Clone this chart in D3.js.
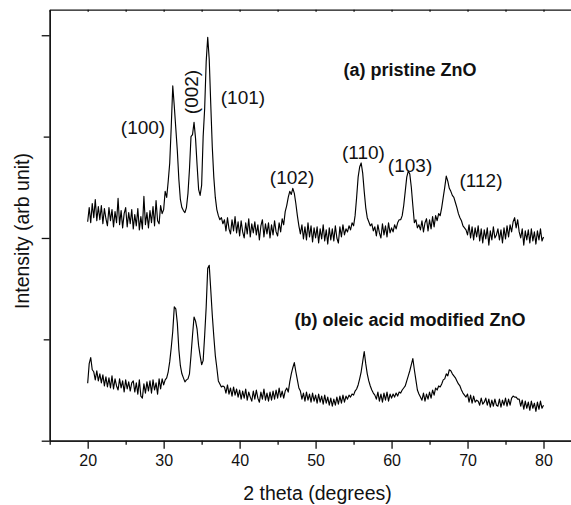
<!DOCTYPE html>
<html>
<head>
<meta charset="utf-8">
<script src="https://cdn.jsdelivr.net/npm/d3@7"></script>
<style>
  body { margin: 0; background: #fff; }
  text { font-family: Arial, "Liberation Sans", sans-serif; fill: #111; }
</style>
</head>
<body>
<div id="chart"></div>
<script>
// XRD patterns, 2 theta 20..80 sampled every 0.2 degree
const thetaStart = 20, thetaStep = 0.2;

const pristine = [
  1080,1150,1075,1170,1100,1190,1085,1155,1090,1160,
  1070,1145,1095,1060,1150,1085,1140,1055,1130,1075,
  1195,1065,1135,1050,1120,1150,1055,1125,1070,1140,
  1045,1115,1060,1145,1040,1105,1045,1205,1065,1125,
  1050,1135,1075,1155,1060,1185,1085,1070,1160,1120,
  1140,1230,1200,1280,1370,1550,1750,1650,1540,1430,
  1290,1190,1150,1135,1125,1150,1220,1340,1500,1510,
  1570,1490,1360,1240,1210,1260,1500,1640,1870,1990,
  1880,1660,1450,1300,1200,1140,1110,1090,1100,1070,
  1090,1035,1100,1045,1020,1090,1035,1105,1025,1080,
  1010,1085,1030,1000,1075,1020,1095,1005,1070,1025,
  1080,1015,1065,990,1060,1090,1005,1070,1020,1075,
  1000,1065,1015,1085,1030,1010,1075,1030,1095,1065,
  1130,1160,1200,1230,1215,1245,1220,1170,1110,1060,
  1020,1065,995,1055,990,1075,1005,1060,980,1050,
  1000,1055,975,1045,995,1065,985,1040,970,1050,
  990,1045,985,1060,1000,975,1055,1005,1065,1015,
  1045,1030,1060,1040,1075,1060,1110,1200,1300,1350,
  1370,1320,1230,1150,1100,1080,1060,1070,1035,1055,
  1010,1065,1025,1000,1070,1015,1060,1005,1075,1025,
  1050,1030,1065,1045,1075,1090,1090,1110,1160,1230,
  1300,1330,1315,1250,1160,1075,1090,1050,1065,1040,
  1085,1030,1075,1095,1035,1090,1045,1105,1055,1110,
  1085,1120,1110,1150,1200,1250,1305,1280,1245,1230,
  1210,1200,1175,1150,1120,1100,1085,1060,1050,1040,
  1015,1065,1000,1055,990,1050,1005,1060,985,1045,
  975,1040,995,1050,965,1035,990,1055,1000,1015,
  1045,990,1040,975,1050,995,1060,1005,1065,1030,
  1080,1100,1050,1090,1030,1000,1045,965,1035,990,
  1040,975,1045,985,1030,970,1035,990,1045,985,
  1005
];

const oleic = [
  283,380,410,350,340,300,345,295,330,285,
  325,270,315,265,310,260,320,255,305,270,
  250,305,260,295,240,300,255,290,245,285,
  295,240,285,230,300,220,210,280,235,290,
  245,295,235,300,250,285,230,305,255,305,
  275,300,310,340,390,460,540,660,650,580,
  450,370,330,310,290,300,305,330,420,520,
  610,590,550,470,420,375,395,520,660,850,
  865,745,620,515,420,360,295,280,265,270,
  265,235,275,230,260,220,265,225,255,215,
  250,205,245,210,255,200,240,215,195,245,
  205,250,210,190,240,205,255,200,235,195,
  240,200,245,205,250,210,260,215,245,210,
  245,260,240,290,330,360,385,340,300,260,
  245,205,235,195,240,200,230,190,235,195,
  225,185,230,190,220,180,225,185,215,175,
  210,170,205,175,215,180,220,185,225,190,
  220,205,225,215,230,225,245,255,275,305,
  340,390,440,380,330,295,270,250,235,225,
  205,240,195,230,190,235,200,240,195,230,
  210,230,215,235,220,240,235,250,260,270,
  295,320,345,375,405,350,300,250,230,215,
  200,235,195,230,205,240,210,250,225,260,
  250,270,265,280,300,305,330,320,350,345,
  330,320,310,295,280,270,250,235,225,215,
  230,190,225,185,220,190,200,195,175,210,
  180,190,210,175,205,165,200,170,205,175,
  170,205,165,200,175,210,170,205,175,210,
  220,215,215,205,205,170,200,155,195,160,
  190,150,195,160,185,145,190,155,195,160,
  175
];

const seriesNames = ["(a) pristine ZnO", "(b) oleic acid modified ZnO"];
const peakNames = ["(100)", "(002)", "(101)", "(102)", "(110)", "(103)", "(112)"];
const xTicks = [20, 30, 40, 50, 60, 70, 80];
const xMinorTicks = [15, 25, 35, 45, 55, 65, 75];
const yTicks = [0, 1000, 2000];
const yMinorTicks = [500, 1500];

const width = 571, height = 505;
const margin = { top: 9.7, left: 49.7, bottom: 64.3 };

const x = d3.scaleLinear()
    .domain([15, 85])
    .range([margin.left, margin.left + 70 * 7.597]);

const y = d3.scaleLinear()
    .domain([0, 2126])
    .range([height - margin.bottom, margin.top]);

const svg = d3.select("#chart").append("svg")
    .attr("width", width)
    .attr("height", height)
    .attr("viewBox", [0, 0, width, height]);

const line = d3.line()
    .x((d, i) => x(thetaStart + i * thetaStep))
    .y(d => y(d));

[pristine, oleic].forEach(s => {
    svg.append("path")
        .datum(s)
        .attr("fill", "none")
        .attr("stroke", "#000")
        .attr("stroke-width", 1.15)
        .attr("stroke-linejoin", "round")
        .attr("d", line);
});

// axes
const styleAxis = g => g
    .call(g => g.selectAll("line").attr("stroke", "#111").attr("stroke-width", 1.3))
    .call(g => g.select(".domain").attr("stroke", "#111").attr("stroke-width", 1.3));

svg.append("g")
    .attr("transform", `translate(0,${y(0)})`)
    .call(d3.axisBottom(x).tickValues(xTicks).tickSize(8).tickSizeOuter(0).tickPadding(6))
    .call(styleAxis)
    .call(g => g.selectAll("text").style("font-size", "16px").attr("fill", "#111"));

svg.append("g")
    .attr("transform", `translate(0,${y(0)})`)
    .call(d3.axisBottom(x).tickValues(xMinorTicks).tickSize(4).tickSizeOuter(0).tickFormat(""))
    .call(styleAxis);

svg.append("g")
    .attr("transform", `translate(0,${y.range()[1]})`)
    .call(d3.axisBottom(x).tickValues(xTicks.concat(xMinorTicks)).tickSize(2).tickSizeOuter(0).tickFormat(""))
    .call(styleAxis);

svg.append("g")
    .attr("transform", `translate(${x(15)},0)`)
    .call(d3.axisLeft(y).tickValues(yTicks).tickSize(8).tickSizeOuter(0).tickFormat(""))
    .call(styleAxis);

svg.append("g")
    .attr("transform", `translate(${x(15)},0)`)
    .call(d3.axisLeft(y).tickValues(yMinorTicks).tickSize(6).tickSizeOuter(0).tickFormat(""))
    .call(styleAxis);

// axis titles
svg.append("text")
    .attr("x", 317.5)
    .attr("y", 500)
    .attr("text-anchor", "middle")
    .style("font-size", "19.5px")
    .text("2 theta (degrees)");

svg.append("text")
    .attr("transform", `translate(29,231) rotate(-90)`)
    .attr("text-anchor", "middle")
    .style("font-size", "19.5px")
    .text("Intensity (arb unit)");

// series labels
const seriesPos = [[62.43, 1829], [62.43, 595]];
seriesNames.forEach((name, i) => {
    svg.append("text")
        .attr("x", x(seriesPos[i][0]))
        .attr("y", y(seriesPos[i][1]))
        .attr("dy", "0.35em")
        .attr("text-anchor", "middle")
        .style("font-size", "18px")
        .style("font-weight", "bold")
        .text(name);
});

// peak labels (2 theta, intensity, rotation)
const peakPos = [
    [27.28, 1548, 0], [33.62, 1720, -90], [40.44, 1695, 0], [46.9, 1300, 0],
    [56.3, 1424, 0], [62.43, 1360, 0], [71.77, 1286, 0]
];
peakNames.forEach((name, i) => {
    const [px, py, rot] = peakPos[i];
    svg.append("text")
        .attr("transform", `translate(${x(px)},${y(py)}) rotate(${rot})`)
        .attr("dy", "0.35em")
        .attr("text-anchor", "middle")
        .style("font-size", "19px")
        .text(name);
});
</script>
</body>
</html>
